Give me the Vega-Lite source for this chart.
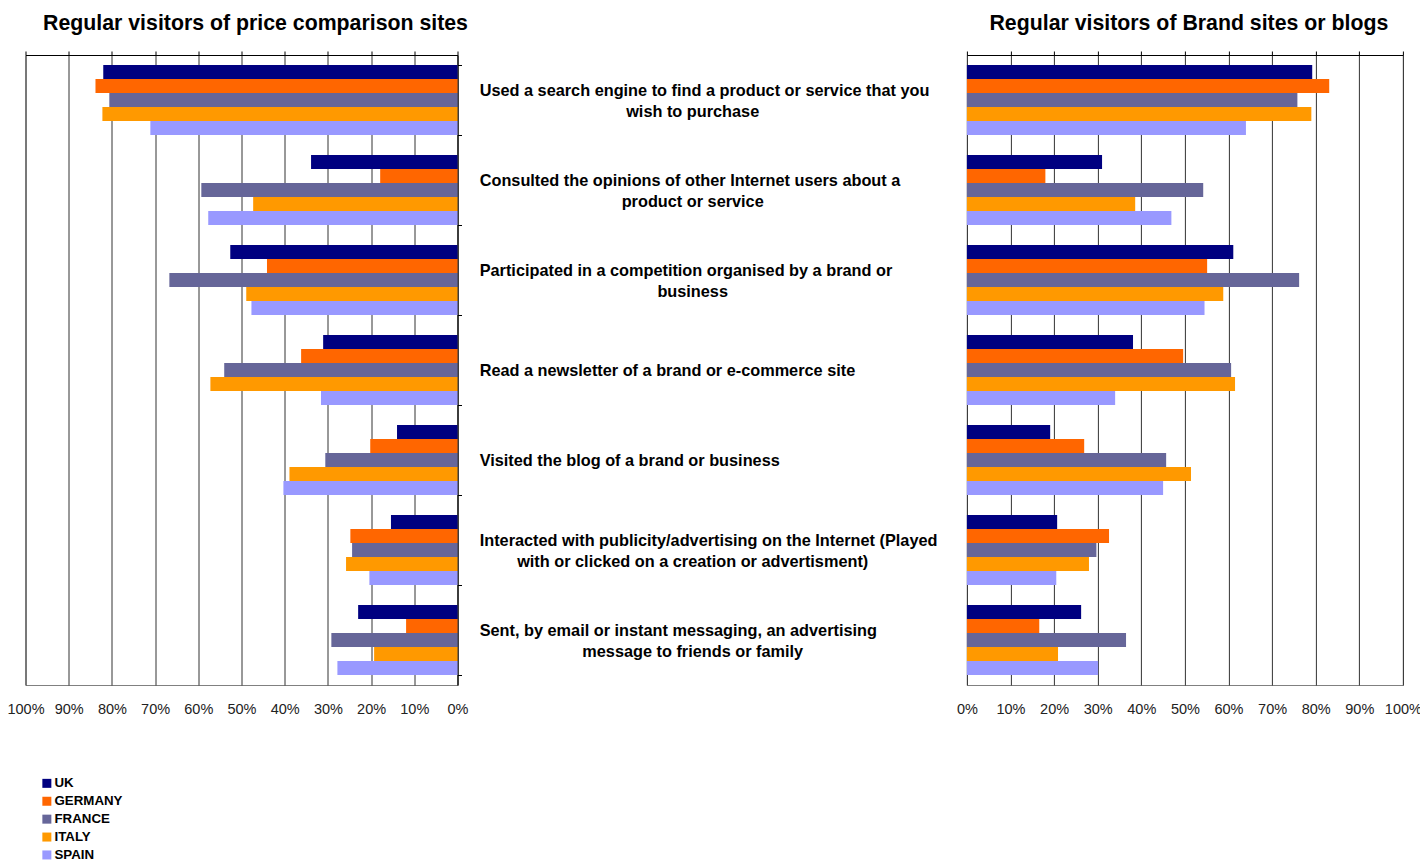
{
  "$schema": "https://vega.github.io/schema/vega-lite/v6.json",
  "background": "white",
  "padding": {"left": 5.5, "top": 12, "right": 0, "bottom": 0},
  "config": {
    "font": "Liberation Sans",
    "view": {"stroke": "#808080", "strokeWidth": 1},
    "title": {"font": "Liberation Sans", "fontSize": 21.3, "fontWeight": "bold", "color": "#000000", "anchor": "middle"}
  },
  "data": {
    "values": [
      {"site": "price", "category": "Used a search engine to find a product or service that you\nwish to purchase", "UK": 0.820, "GERMANY": 0.838, "FRANCE": 0.806, "ITALY": 0.822, "SPAIN": 0.711},
      {"site": "price", "category": "Consulted the opinions of other Internet users about a\nproduct or service", "UK": 0.339, "GERMANY": 0.179, "FRANCE": 0.593, "ITALY": 0.473, "SPAIN": 0.577},
      {"site": "price", "category": "Participated in a competition organised by a brand or\nbusiness", "UK": 0.526, "GERMANY": 0.441, "FRANCE": 0.667, "ITALY": 0.489, "SPAIN": 0.477},
      {"site": "price", "category": "Read a newsletter of a brand or e-commerce site", "UK": 0.311, "GERMANY": 0.362, "FRANCE": 0.540, "ITALY": 0.572, "SPAIN": 0.316},
      {"site": "price", "category": "Visited the blog of a brand or business", "UK": 0.140, "GERMANY": 0.202, "FRANCE": 0.306, "ITALY": 0.389, "SPAIN": 0.403},
      {"site": "price", "category": "Interacted with publicity/advertising on the Internet (Played\nwith or clicked on a creation or advertisment)", "UK": 0.154, "GERMANY": 0.248, "FRANCE": 0.244, "ITALY": 0.258, "SPAIN": 0.204},
      {"site": "price", "category": "Sent, by email or instant messaging, an advertising\nmessage to friends or family", "UK": 0.230, "GERMANY": 0.119, "FRANCE": 0.292, "ITALY": 0.193, "SPAIN": 0.278},
      {"site": "brand", "category": "Used a search engine to find a product or service that you\nwish to purchase", "UK": 0.792, "GERMANY": 0.831, "FRANCE": 0.758, "ITALY": 0.790, "SPAIN": 0.640},
      {"site": "brand", "category": "Consulted the opinions of other Internet users about a\nproduct or service", "UK": 0.310, "GERMANY": 0.180, "FRANCE": 0.542, "ITALY": 0.386, "SPAIN": 0.469},
      {"site": "brand", "category": "Participated in a competition organised by a brand or\nbusiness", "UK": 0.611, "GERMANY": 0.551, "FRANCE": 0.762, "ITALY": 0.588, "SPAIN": 0.545},
      {"site": "brand", "category": "Read a newsletter of a brand or e-commerce site", "UK": 0.381, "GERMANY": 0.496, "FRANCE": 0.606, "ITALY": 0.615, "SPAIN": 0.340},
      {"site": "brand", "category": "Visited the blog of a brand or business", "UK": 0.191, "GERMANY": 0.269, "FRANCE": 0.457, "ITALY": 0.514, "SPAIN": 0.450},
      {"site": "brand", "category": "Interacted with publicity/advertising on the Internet (Played\nwith or clicked on a creation or advertisment)", "UK": 0.207, "GERMANY": 0.326, "FRANCE": 0.297, "ITALY": 0.280, "SPAIN": 0.205},
      {"site": "brand", "category": "Sent, by email or instant messaging, an advertising\nmessage to friends or family", "UK": 0.262, "GERMANY": 0.166, "FRANCE": 0.365, "ITALY": 0.209, "SPAIN": 0.301}
    ]
  },
  "bounds": "flush",
  "spacing": 509.4,
  "resolve": {"scale": {"x": "independent", "y": "independent", "color": "shared"}},
  "hconcat": [
    {
      "width": 432,
      "height": 630,
      "title": {"text": "Regular visitors of price comparison sites", "dx": 14, "offset": 13},
      "transform": [
        {"filter": "datum.site === 'price'"},
        {"fold": ["UK", "GERMANY", "FRANCE", "ITALY", "SPAIN"], "as": ["country", "value"]}
      ],
      "mark": {"type": "bar"},
      "encoding": {
        "y": {
          "field": "category",
          "type": "nominal",
          "sort": null,
          "scale": {"paddingInner": 0.2222, "paddingOuter": 0.1111},
          "axis": {
            "orient": "right",
            "title": null,
            "domain": true,
            "domainColor": "#000000",
            "ticks": true,
            "tickBand": "extent",
            "tickSize": 4,
            "tickColor": "#000000",
            "labelExpr": "datum.value ? split(datum.value, '\\n')[0] : ''",
            "labelAlign": "left",
            "labelPadding": 17.7,
            "labelBaseline": {"condition": {"test": "datum.value && indexof(datum.value, '\\n') >= 0", "value": "line-bottom"}, "value": "middle"},
            "labelFont": "Liberation Sans",
            "labelFontWeight": "bold",
            "labelFontSize": 16.3,
            "labelLineHeight": 20,
            "labelColor": "#000000",
            "labelLimit": 600,
            "labelOverlap": false
          }
        },
        "yOffset": {"field": "country", "sort": ["UK", "GERMANY", "FRANCE", "ITALY", "SPAIN"]},
        "x": {
          "field": "value",
          "type": "quantitative",
          "scale": {"domain": [0, 1], "reverse": true, "nice": false},
          "axis": {
            "orient": "top",
            "title": null,
            "values": [0, 0.1, 0.2, 0.3, 0.4, 0.5, 0.6, 0.7, 0.8, 0.9, 1],
            "format": ".0%",
            "domain": true,
            "domainColor": "#000000",
            "ticks": true,
            "tickSize": 4,
            "tickColor": "#000000",
            "grid": true,
            "gridColor": "#333333",
            "gridWidth": 1,
            "labelPadding": -651.5,
            "labelBaseline": "top",
            "labelFont": "Liberation Sans",
            "labelFontSize": 14.5,
            "labelColor": "#222222",
            "labelFlush": false,
            "labelOverlap": false
          }
        },
        "color": {
          "field": "country",
          "type": "nominal",
          "sort": ["UK", "GERMANY", "FRANCE", "ITALY", "SPAIN"],
          "scale": {"domain": ["UK", "GERMANY", "FRANCE", "ITALY", "SPAIN"], "range": ["#000080", "#FF6600", "#666699", "#FF9900", "#9999FF"]},
          "legend": {
            "orient": "none",
            "legendX": 14.7,
            "legendY": 721.7,
            "title": null,
            "padding": 0,
            "symbolType": "square",
            "symbolSize": 81,
            "symbolStrokeWidth": 0,
            "labelFont": "Liberation Sans",
            "labelFontSize": 13.3,
            "labelFontWeight": "bold",
            "labelColor": "#000000",
            "labelOffset": 1,
            "rowPadding": 3.9
          }
        }
      }
    },
    {
      "width": 436,
      "height": 630,
      "title": {"text": "Regular visitors of Brand sites or blogs", "dx": 4, "offset": 16},
      "transform": [
        {"filter": "datum.site === 'brand'"},
        {"fold": ["UK", "GERMANY", "FRANCE", "ITALY", "SPAIN"], "as": ["country", "value"]}
      ],
      "mark": {"type": "bar"},
      "encoding": {
        "y": {
          "field": "category",
          "type": "nominal",
          "sort": null,
          "scale": {"paddingInner": 0.2222, "paddingOuter": 0.1111},
          "axis": {
            "orient": "left",
            "title": null,
            "domain": false,
            "ticks": false,
            "tickSize": 0,
            "labelExpr": "indexof(datum.value, '\\n') >= 0 ? split(datum.value, '\\n')[1] : ''",
            "labelAlign": "center",
            "labelPadding": 274.7,
            "labelBaseline": "line-top",
            "labelFont": "Liberation Sans",
            "labelFontWeight": "bold",
            "labelFontSize": 16.3,
            "labelLineHeight": 24,
            "labelColor": "#000000",
            "labelLimit": 600,
            "labelOverlap": false
          }
        },
        "yOffset": {"field": "country", "sort": ["UK", "GERMANY", "FRANCE", "ITALY", "SPAIN"]},
        "x": {
          "field": "value",
          "type": "quantitative",
          "scale": {"domain": [0, 1], "nice": false},
          "axis": {
            "orient": "top",
            "title": null,
            "values": [0, 0.1, 0.2, 0.3, 0.4, 0.5, 0.6, 0.7, 0.8, 0.9, 1],
            "format": ".0%",
            "domain": true,
            "domainColor": "#000000",
            "ticks": true,
            "tickSize": 4,
            "tickColor": "#000000",
            "grid": true,
            "gridColor": "#333333",
            "gridWidth": 1,
            "labelPadding": -651.5,
            "labelBaseline": "top",
            "labelFont": "Liberation Sans",
            "labelFontSize": 14.5,
            "labelColor": "#222222",
            "labelFlush": false,
            "labelOverlap": false
          }
        },
        "color": {
          "field": "country",
          "type": "nominal",
          "sort": ["UK", "GERMANY", "FRANCE", "ITALY", "SPAIN"]
        }
      }
    }
  ]
}
